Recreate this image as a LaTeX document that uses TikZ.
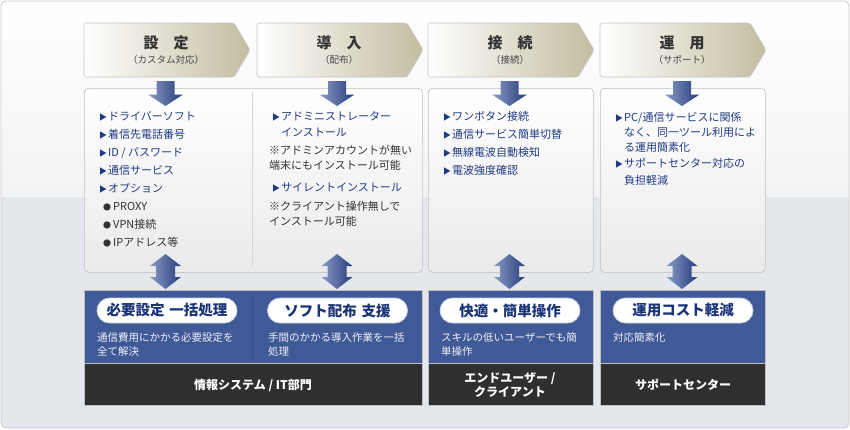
\documentclass[tikz,border=0pt]{standalone}
\usepackage{fontspec}
\setmainfont{Noto Sans CJK JP}
\usetikzlibrary{calc}
\definecolor{navytxt}{HTML}{1F3B83}
\definecolor{graytxt}{HTML}{333333}
\definecolor{subtxt}{HTML}{444444}
\definecolor{bandblue}{HTML}{3F5A97}
\definecolor{banddark}{HTML}{2F2F2F}
\definecolor{khaki}{HTML}{C3BDA0}
\definecolor{hdrline}{HTML}{C4C4C4}
\definecolor{boxline}{HTML}{BEBEBE}
\definecolor{boxbot}{HTML}{EAEAEA}
\definecolor{bgtop}{HTML}{F2F3F5}
\definecolor{bgbot}{HTML}{E4E8EC}
\definecolor{framecol}{HTML}{C8C8C8}
\definecolor{arrlight}{HTML}{8A9BC6}
\definecolor{arrdark}{HTML}{253C7C}
\definecolor{pilltxt}{HTML}{1B3478}
\definecolor{pillline}{HTML}{C9D0E0}
\definecolor{desctxt}{HTML}{EEF1F8}
\definecolor{divblue}{HTML}{344E8A}
\definecolor{divgray}{HTML}{D6D6D6}
\newcommand\mytri{\makebox[9pt][l]{\fontsize{8}{8}\selectfont ▶}}
\newcommand\mydot{\makebox[10pt][l]{\fontsize{8}{8}\selectfont ●}}
\tikzset{
 hdr/.style={draw=hdrline, line width=0.6pt, left color=white, right color=khaki, rounded corners=2.5pt},
 ttl/.style={font=\fontsize{15}{15}\selectfont\bfseries, text=graytxt, inner sep=0},
 subt/.style={font=\fontsize{9.5}{9.5}\selectfont, text=subtxt, inner sep=0},
 cbox/.style={draw=boxline, line width=0.6pt, top color=white, bottom color=boxbot, rounded corners=4pt, inner sep=0, anchor=north west},
 itm/.style={font=\fontsize{11}{11}\selectfont, text=navytxt, inner sep=0, anchor=base west},
 note/.style={itm, text=graytxt},
 arr/.style={left color=arrlight, right color=arrdark},
 blu/.style={fill=bandblue, draw=boxline, line width=0.5pt, inner sep=0, anchor=north west},
 drk/.style={fill=banddark, draw=boxline, line width=0.5pt, inner sep=0, anchor=north west},
 pill/.style={fill=white, draw=pillline, line width=0.8pt, rounded corners=12.5pt, minimum width=140pt, minimum height=25pt, inner sep=0, font=\fontsize{14.5}{14.5}\selectfont\bfseries, text=pilltxt},
 desc/.style={font=\fontsize{10.5}{10.5}\selectfont, text=desctxt, inner sep=0, anchor=base west},
 band/.style={font=\fontsize{12}{12}\selectfont\bfseries, text=white, inner sep=0, align=center},
}
\begin{document}
\begin{tikzpicture}[x=1pt,y=-1pt]
\useasboundingbox (0,0) rectangle (850,429);
% background
\begin{scope}
\clip[rounded corners=5pt] (1,1) rectangle (849,428);
\shade[top color=white, bottom color=bgtop] (0,0) rectangle (850,197);
\fill[bgbot] (0,197) rectangle (850,429);
\end{scope}
\draw[framecol, rounded corners=5pt, line width=0.8pt] (1,1) rectangle (849,428);

% headers
\foreach \L/\t/\s/\n in {84/設　定/（カスタム対応）/1, 257/導　入/（配布）/2, 428/接　続/（接続）/3, 600/運　用/（サポート）/4}{
  \path[hdr] (\L,23) -- (\L+150,23) -- (\L+166,50) -- (\L+150,77) -- (\L,77) -- cycle;
  \node[ttl] (ht\n) at (\L+82,43) {\t};
  \node[subt] (hs\n) at (\L+82,60) {\s};
}

% content boxes
\node[cbox, minimum width=338pt, minimum height=184pt] (c12) at (84,88) {};
\node[cbox, minimum width=165pt, minimum height=184pt] (c3) at (428,88) {};
\node[cbox, minimum width=165pt, minimum height=184pt] (c4) at (600,88) {};
\draw[divgray, line width=0.6pt] (252,92) -- (252,268);

% down arrows
\foreach \c in {165.5,337,509.5,682}{
  \shade[arr] (\c-9,81) -- (\c+9,81) -- (\c+9,94.5) -- (\c+17.5,94.5) -- (\c,106) -- (\c-17.5,94.5) -- (\c-9,94.5) -- cycle;
}

% column 1
\node[itm] (a1) at (99,120) {\mytri ドライバーソフト};
\node[itm] (a2) at (99,138) {\mytri 着信先電話番号};
\node[itm] (a3) at (99,156) {\mytri ID / パスワード};
\node[itm] (a4) at (99,174) {\mytri 通信サービス};
\node[itm] (a5) at (99,192) {\mytri オプション};
\node[note] (a6) at (103,210) {\mydot PROXY};
\node[note] (a7) at (103,228) {\mydot VPN接続};
\node[note] (a8) at (103,246) {\mydot IPアドレス等};
% column 2
\node[itm] (b1) at (272,120) {\mytri アドミニストレーター};
\node[itm] (b2) at (281,136) {インストール};
\node[note] (b3) at (269,154) {※アドミンアカウントが無い};
\node[note] (b4) at (269,169) {端末にもインストール可能};
\node[itm] (b5) at (272,191) {\mytri サイレントインストール};
\node[note] (b6) at (269,210) {※クライアント操作無しで};
\node[note] (b7) at (269,225) {インストール可能};
% column 3
\node[itm] (d1) at (443,120) {\mytri ワンボタン接続};
\node[itm] (d2) at (443,138) {\mytri 通信サービス簡単切替};
\node[itm] (d3) at (443,156) {\mytri 無線電波自動検知};
\node[itm] (d4) at (443,174) {\mytri 電波強度確認};
% column 4
\node[itm] (e1) at (615,121) {\mytri PC/通信サービスに関係};
\node[itm] (e2) at (624,136) {なく、同一ツール利用によ};
\node[itm] (e3) at (624,151) {る運用簡素化};
\node[itm] (e4) at (615,167) {\mytri サポートセンター対応の};
\node[itm] (e5) at (624,184) {負担軽減};

% bottom boxes
\node[blu, minimum width=338pt, minimum height=73pt] (u12) at (84,290) {};
\node[blu, minimum width=165pt, minimum height=73pt] (u3) at (428,290) {};
\node[blu, minimum width=165pt, minimum height=73pt] (u4) at (600,290) {};
\node[drk, minimum width=338pt, minimum height=42pt] (k12) at (84,363) {};
\node[drk, minimum width=165pt, minimum height=42pt] (k3) at (428,363) {};
\node[drk, minimum width=165pt, minimum height=42pt] (k4) at (600,363) {};
\draw[divblue, line width=0.8pt] (252,296) -- (252,360);

% double arrows
\foreach \c in {165.5,337,509.5,682}{
  \shade[arr] (\c,254) -- (\c+15.5,266) -- (\c+9.5,266) -- (\c+9.5,277) -- (\c+15.5,277) -- (\c,289) -- (\c-15.5,277) -- (\c-9.5,277) -- (\c-9.5,266) -- (\c-15.5,266) -- cycle;
}

% pills
\node[pill] (p1) at (167,310.5) {必要設定\hspace{5pt}一括処理};
\node[pill] (p2) at (337.5,310.5) {ソフト配布\hspace{5pt}支援};
\node[pill] (p3) at (510,310.5) {快適・簡単操作};
\node[pill] (p4) at (683,310.5) {運用コスト軽減};

% descriptions
\node[desc] (f1) at (97,341) {通信費用にかかる必要設定を};
\node[desc] (f2) at (97,355) {全て解決};
\node[desc] (g1) at (268,341) {手間のかかる導入作業を一括};
\node[desc] (g2) at (268,355) {処理};
\node[desc] (h1) at (441,341) {スキルの低いユーザーでも簡};
\node[desc] (h2) at (441,355) {単操作};
\node[desc] (i1) at (613,341) {対応簡素化};

% band labels
\node[band] (n1) at (253,385) {情報システム / IT部門};
\node[band] (n2) at (510,385) {エンドユーザー /\\[1pt]クライアント};
\node[band] (n3) at (683,385) {サポートセンター};
\end{tikzpicture}
\end{document}
